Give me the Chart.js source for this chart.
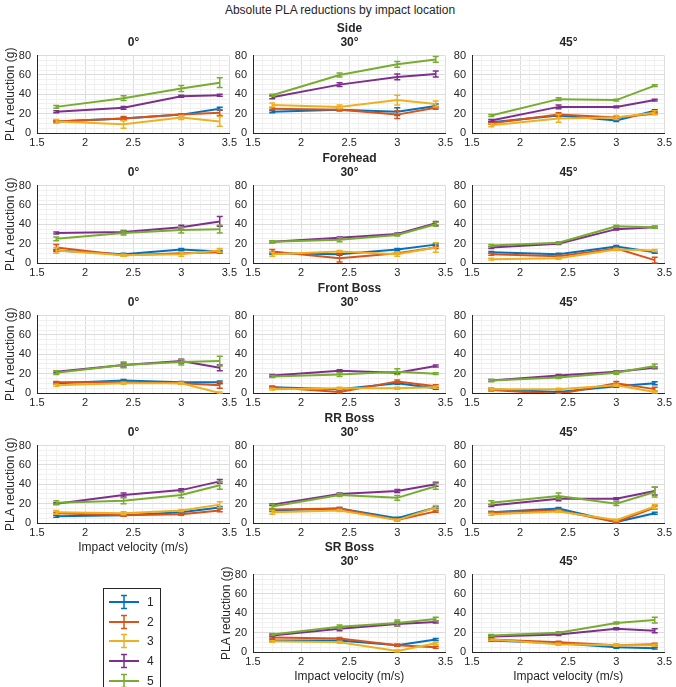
<!DOCTYPE html>
<html>
<head>
<meta charset="utf-8">
<script src="https://cdn.jsdelivr.net/npm/chart.js@4/dist/chart.umd.min.js"></script>
<style>
  body { margin: 0; background: #fff; font-family: "Liberation Sans", Arial, sans-serif; color: #262626; }
  #wrap { position: relative; width: 676px; height: 687px; overflow: hidden; }
  canvas.panel { position: absolute; }
  .lbl { position: absolute; transform: translate(-50%, -50%); white-space: nowrap; font-size: 12px; }
  .bold { font-weight: bold; }
  #legend { position: absolute; left: 103px; top: 588px; width: 56px; height: 104px; border: 1px solid #262626; background: #fff; }
  .lg { position: absolute; left: 4px; height: 20px; display: flex; align-items: center; font-size: 12px; }
  .lg canvas { margin-right: 7px; }
</style>
</head>
<body>
<div id="wrap"></div>
<script>
// Data
const speeds = [1.7, 2.4, 3.0, 3.4];
const seriesNames = ["1", "2", "3", "4", "5"];
const seriesColors = ["#0072BD", "#D95319", "#EDB120", "#7E2F8E", "#77AC30"];
const xTicks = ["1.5", "2", "2.5", "3", "3.5"];
const yTicks = ["0", "20", "40", "60", "80"];

// each panel: one row per series (1..5), values in g
const side0 = [[12, 15, 19, 25], [12, 15, 19, 21], [12, 9, 16, 12], [22, 26, 38, 39], [27, 36, 46, 52]];
const side0Err = [[1, 1, 1, 1.5], [1, 2, 1, 3], [2, 4, 2, 5], [1, 1.5, 1, 1], [1.5, 2.5, 3, 5]];
const side30 = [[22, 24, 22, 28], [25, 24, 19, 26], [29, 27, 34, 30], [37, 50, 58, 61], [39, 60, 71, 76]];
const side30Err = [[1, 1, 4, 2], [1, 1, 4, 1.5], [2, 2, 5, 3], [1.5, 2, 3, 3], [1, 2, 3, 3]];
const side45 = [[11, 18, 13, 23], [10, 19, 16, 20], [8, 15, 16, 21], [13, 27, 27, 34], [18, 35, 34, 49]];
const side45Err = [[1, 1, 1, 1], [1, 2, 1, 1], [1.5, 4, 2, 2], [1, 2, 1, 1], [1, 1.5, 1, 1]];

const forehead0 = [[13, 9, 14, 12], [16, 8, 10, 11], [13, 8, 9, 13], [31, 32, 37, 43], [25, 31, 34, 35]];
const forehead0Err = [[1, 1, 1, 1], [3, 1, 1, 1], [3, 1, 2, 2], [1, 1.5, 2, 5], [2, 2, 3, 4]];
const forehead30 = [[10, 9, 14, 19], [12, 5, 10, 16], [9, 12, 9, 16], [22, 26, 30, 41], [22, 24, 29, 40]];
const forehead30Err = [[1, 1, 1, 1], [2, 4, 1, 1], [2, 1, 2, 5], [1, 1, 1, 2], [1, 2, 1, 2]];
const forehead45 = [[11, 9, 17, 11], [9, 7, 15, 3], [4, 5, 14, 13], [16, 20, 35, 37], [18, 21, 38, 37]];
const forehead45Err = [[1, 1, 1, 1], [1, 1, 1, 3], [1, 1, 1, 1], [1, 1, 1, 1], [1, 1, 1, 1]];

const front0 = [[10, 13, 11, 11], [11, 11, 10, 8], [8, 10, 10, 0], [22, 29, 33, 26], [21, 29, 32, 33]];
const front0Err = [[1, 1, 1, 1.5], [1, 1, 1, 3], [1, 1, 1, 1], [1, 2, 2, 3], [2, 3, 3, 5]];
const front30 = [[6, 4, 10, 5], [6, 1, 12, 7], [4, 5, 5, 6], [18, 23, 21, 28], [17, 19, 22, 20]];
const front30Err = [[1, 1, 1, 1], [1, 1, 1.5, 1.5], [1, 1, 1, 1], [1, 1, 1, 1], [1, 2, 3, 1]];
const front45 = [[4, 1, 7, 10], [3, -1, 10, 4], [4, 4, 8, 1], [13, 18, 22, 26], [13, 16, 21, 28]];
const front45Err = [[1, 1, 1, 1.5], [1, 1, 2, 2], [1, 1, 1, 1], [1, 1, 1, 1], [1, 1, 1.5, 2]];

const rr0 = [[7, 8, 11, 16], [10, 8, 9, 13], [11, 10, 13, 19], [20, 29, 34, 43], [21, 23, 29, 39]];
const rr0Err = [[1, 1, 1, 1], [1, 1, 1, 1.5], [2, 1.5, 1, 3], [1, 2, 1.5, 2], [2, 3, 3, 4]];
const rr30 = [[13, 15, 5, 16], [14, 15, 3, 12], [11, 13, 3, 16], [19, 30, 33, 40], [17, 29, 26, 38]];
const rr30Err = [[1, 1, 1, 1], [1, 1, 1, 1], [2, 1, 1, 2], [1, 1, 1.5, 2], [2.5, 1.5, 2.5, 3]];
const rr45 = [[11, 15, 1, 10], [11, 13, 1, 16], [9, 12, 3, 17], [18, 25, 25, 33], [21, 28, 20, 32]];
const rr45Err = [[1, 1, 1, 1], [1, 1, 1, 1.5], [1, 1, 1, 2], [1, 2, 1, 4], [2, 3, 2, 5]];

const sr30 = [[12, 12, 7, 13], [15, 14, 7, 5], [11, 10, 1, 9], [17, 24, 29, 31], [18, 26, 30, 34]];
const sr30Err = [[1, 1, 1, 1], [1, 1, 1, 1], [1, 1, 1, 1], [1, 2, 2, 1], [1, 2, 3, 2]];
const sr45 = [[12, 9, 5, 4], [13, 10, 7, 8], [13, 8, 7, 7], [16, 18, 24, 22], [17, 20, 30, 33]];
const sr45Err = [[1, 1, 1, 1], [1, 1, 1, 1], [1, 1, 1, 1], [1, 1, 1, 2], [1, 1, 1, 3]];

const panels = [
  { row: 0, col: 0, vals: side0, errs: side0Err, title: "0°", yTitle: true },
  { row: 0, col: 1, vals: side30, errs: side30Err, title: "30°", group: "Side" },
  { row: 0, col: 2, vals: side45, errs: side45Err, title: "45°" },
  { row: 1, col: 0, vals: forehead0, errs: forehead0Err, title: "0°", yTitle: true },
  { row: 1, col: 1, vals: forehead30, errs: forehead30Err, title: "30°", group: "Forehead" },
  { row: 1, col: 2, vals: forehead45, errs: forehead45Err, title: "45°" },
  { row: 2, col: 0, vals: front0, errs: front0Err, title: "0°", yTitle: true },
  { row: 2, col: 1, vals: front30, errs: front30Err, title: "30°", group: "Front Boss" },
  { row: 2, col: 2, vals: front45, errs: front45Err, title: "45°" },
  { row: 3, col: 0, vals: rr0, errs: rr0Err, title: "0°", yTitle: true, xTitle: true },
  { row: 3, col: 1, vals: rr30, errs: rr30Err, title: "30°", group: "RR Boss" },
  { row: 3, col: 2, vals: rr45, errs: rr45Err, title: "45°" },
  { row: 4, col: 1, vals: sr30, errs: sr30Err, title: "30°", group: "SR Boss", yTitle: true, xTitle: true },
  { row: 4, col: 2, vals: sr45, errs: sr45Err, title: "45°", xTitle: true },
];

// Layout
const FONT = '"Liberation Sans", Arial, sans-serif';
const colLeft = [37, 253, 472];
const rowTop = [53, 183, 313, 443, 572];
const plotW = 193, plotH = 80;
const padTop = 10, padRight = 10, yAxisW = 37;
const wrap = document.getElementById("wrap");

function addLabel(text, x, y, bold, size) {
  const d = document.createElement("div");
  d.className = "lbl" + (bold ? " bold" : "");
  d.style.left = x + "px";
  d.style.top = y + "px";
  if (size) d.style.fontSize = size + "px";
  d.textContent = text;
  wrap.appendChild(d);
}

addLabel("Absolute PLA reductions by impact location", 340, 10, false, 12);

const near = (v, step) => Math.abs(v / step - Math.round(v / step)) < 1e-6;

// error bars drawn with each dataset through the chart scales
const errorBars = {
  id: "errorBars",
  afterDatasetDraw(chart, args) {
    const ds = chart.data.datasets[args.index];
    const xs = chart.scales.x, ys = chart.scales.y;
    const ctx = chart.ctx, a = chart.chartArea;
    ctx.save();
    ctx.beginPath();
    ctx.rect(a.left, a.top - 1, a.right - a.left, a.bottom - a.top + 2);
    ctx.clip();
    ctx.strokeStyle = ds.borderColor;
    ctx.lineWidth = 1.5;
    ds.data.forEach((p, i) => {
      const e = ds.errors[i];
      const px = xs.getPixelForValue(p.x);
      const lo = ys.getPixelForValue(p.y - e);
      const hi = ys.getPixelForValue(p.y + e);
      ctx.beginPath();
      ctx.moveTo(px, lo); ctx.lineTo(px, hi);
      ctx.moveTo(px - 3, lo); ctx.lineTo(px + 3, lo);
      ctx.moveTo(px - 3, hi); ctx.lineTo(px + 3, hi);
      ctx.stroke();
    });
    ctx.restore();
  },
};

panels.forEach((p) => {
  const left = colLeft[p.col], top = rowTop[p.row];
  const xAxisH = p.xTitle ? 32 : 18;
  const cv = document.createElement("canvas");
  cv.className = "panel";
  cv.width = yAxisW + plotW + padRight;
  cv.height = padTop + plotH + xAxisH;
  cv.style.left = (left - yAxisW) + "px";
  cv.style.top = (top - padTop) + "px";
  wrap.appendChild(cv);

  if (p.group) addLabel(p.group, left + plotW / 2, top - 25, true, 12);
  addLabel(p.title, left + plotW / 2, top - 11, true, 12);

  const datasets = p.vals.map((v, s) => ({
    label: seriesNames[s],
    data: v.map((y, i) => ({ x: speeds[i], y })),
    errors: p.errs[s],
    borderColor: seriesColors[s],
    backgroundColor: seriesColors[s],
    borderWidth: 2,
    pointRadius: 0,
    order: 5 - s,
  }));

  new Chart(cv, {
    type: "line",
    data: { datasets },
    options: {
      responsive: false,
      animation: false,
      devicePixelRatio: 1,
      layout: { padding: { top: padTop, right: padRight, left: 0, bottom: 0 } },
      plugins: { legend: { display: false }, tooltip: { enabled: false } },
      scales: {
        x: {
          type: "linear",
          min: 1.5, max: 3.5,
          afterFit: (s) => { s.height = xAxisH; },
          ticks: {
            stepSize: 0.1, autoSkip: false, maxRotation: 0, padding: 3,
            color: "#262626", font: { family: FONT, size: 11 },
            callback: (v) => near(v, 0.5) ? xTicks[Math.round((v - 1.5) * 2)] : "",
          },
          grid: {
            drawTicks: false,
            color: (c) => near(c.tick.value, 0.5) ? "#dcdcdc" : "#f0f0f0",
          },
          border: { display: true, color: "#262626", width: 1 },
          title: {
            display: !!p.xTitle, text: "Impact velocity (m/s)", color: "#262626",
            font: { family: FONT, size: 12 }, padding: { top: 1, bottom: 0 },
          },
        },
        y: {
          min: 0, max: 80,
          afterFit: (s) => { s.width = yAxisW; },
          ticks: {
            stepSize: 5, autoSkip: false, padding: 6,
            color: "#262626", font: { family: FONT, size: 11 },
            callback: (v) => near(v, 20) ? yTicks[Math.round(v / 20)] : "",
          },
          grid: {
            drawTicks: false,
            color: (c) => near(c.tick.value, 20) ? "#dcdcdc" : "#f0f0f0",
          },
          border: { display: true, color: "#262626", width: 1 },
          title: {
            display: !!p.yTitle, text: "PLA reduction (g)", color: "#262626",
            font: { family: FONT, size: 12 }, padding: { top: 3, bottom: 0 },
          },
        },
      },
    },
    plugins: [errorBars],
  });
});

// Legend box
const legend = document.createElement("div");
legend.id = "legend";
wrap.appendChild(legend);
seriesNames.forEach((name, s) => {
  const row = document.createElement("div");
  row.className = "lg";
  row.style.top = (3 + s * 19.7) + "px";
  const g = document.createElement("canvas");
  g.width = 32; g.height = 16;
  const c = g.getContext("2d");
  c.strokeStyle = seriesColors[s];
  c.lineWidth = 2;
  c.beginPath(); c.moveTo(1, 8); c.lineTo(31, 8); c.stroke();
  c.lineWidth = 1.5;
  c.beginPath();
  c.moveTo(16, 1); c.lineTo(16, 15);
  c.moveTo(13, 1.5); c.lineTo(19, 1.5);
  c.moveTo(13, 14.5); c.lineTo(19, 14.5);
  c.stroke();
  row.appendChild(g);
  const t = document.createElement("span");
  t.textContent = name;
  row.appendChild(t);
  legend.appendChild(row);
});
</script>
</body>
</html>
